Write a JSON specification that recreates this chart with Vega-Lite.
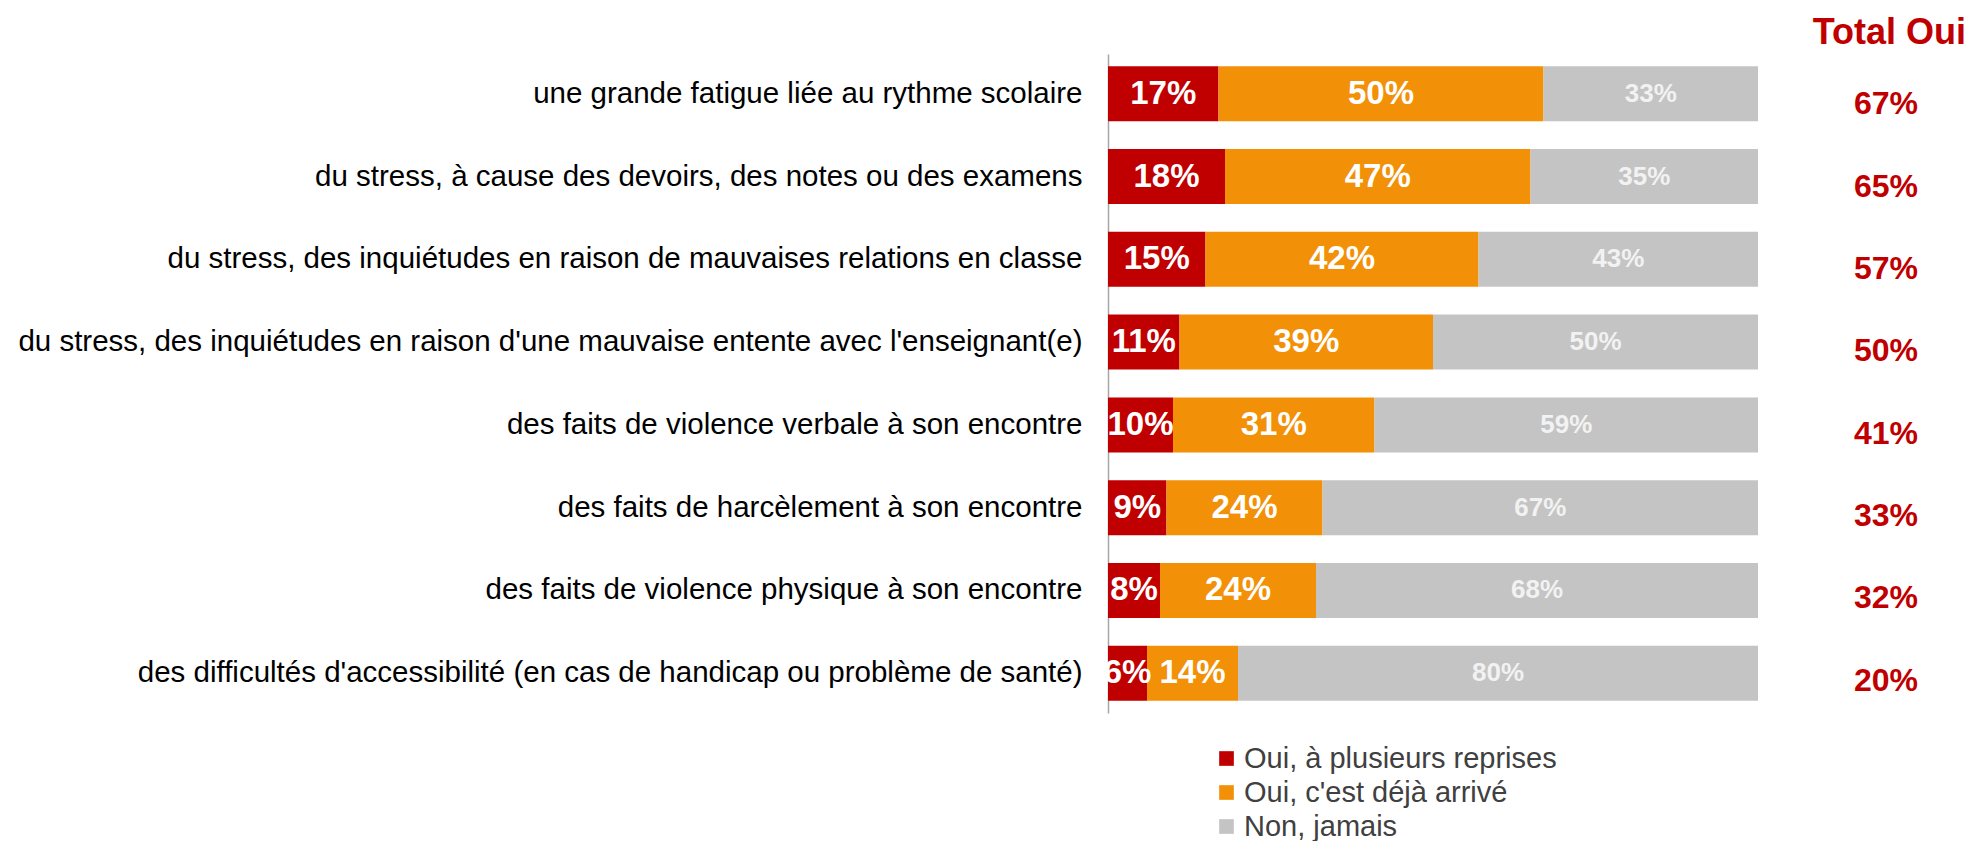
{
  "$schema": "https://vega.github.io/schema/vega-lite/v6.json",
  "background": "white",
  "padding": {"left": 17, "top": 15, "right": 0, "bottom": 0},
  "config": {"font": "Liberation Sans", "view": {"stroke": null}},
  "title": {"text": "Total Oui", "color": "#C00000", "fontSize": 36, "fontWeight": "bold", "anchor": "end", "offset": 2},
  "datasets": {
    "bars": [
      {"item": "une grande fatigue liée au rythme scolaire", "answer": "Oui, à plusieurs reprises", "rank": 1, "share": 0.17},
      {"item": "une grande fatigue liée au rythme scolaire", "answer": "Oui, c'est déjà arrivé", "rank": 2, "share": 0.50},
      {"item": "une grande fatigue liée au rythme scolaire", "answer": "Non, jamais", "rank": 3, "share": 0.33},
      {"item": "du stress, à cause des devoirs, des notes ou des examens", "answer": "Oui, à plusieurs reprises", "rank": 1, "share": 0.18},
      {"item": "du stress, à cause des devoirs, des notes ou des examens", "answer": "Oui, c'est déjà arrivé", "rank": 2, "share": 0.47},
      {"item": "du stress, à cause des devoirs, des notes ou des examens", "answer": "Non, jamais", "rank": 3, "share": 0.35},
      {"item": "du stress, des inquiétudes en raison de mauvaises relations en classe", "answer": "Oui, à plusieurs reprises", "rank": 1, "share": 0.15},
      {"item": "du stress, des inquiétudes en raison de mauvaises relations en classe", "answer": "Oui, c'est déjà arrivé", "rank": 2, "share": 0.42},
      {"item": "du stress, des inquiétudes en raison de mauvaises relations en classe", "answer": "Non, jamais", "rank": 3, "share": 0.43},
      {"item": "du stress, des inquiétudes en raison d'une mauvaise entente avec l'enseignant(e)", "answer": "Oui, à plusieurs reprises", "rank": 1, "share": 0.11},
      {"item": "du stress, des inquiétudes en raison d'une mauvaise entente avec l'enseignant(e)", "answer": "Oui, c'est déjà arrivé", "rank": 2, "share": 0.39},
      {"item": "du stress, des inquiétudes en raison d'une mauvaise entente avec l'enseignant(e)", "answer": "Non, jamais", "rank": 3, "share": 0.50},
      {"item": "des faits de violence verbale à son encontre", "answer": "Oui, à plusieurs reprises", "rank": 1, "share": 0.10},
      {"item": "des faits de violence verbale à son encontre", "answer": "Oui, c'est déjà arrivé", "rank": 2, "share": 0.31},
      {"item": "des faits de violence verbale à son encontre", "answer": "Non, jamais", "rank": 3, "share": 0.59},
      {"item": "des faits de harcèlement à son encontre", "answer": "Oui, à plusieurs reprises", "rank": 1, "share": 0.09},
      {"item": "des faits de harcèlement à son encontre", "answer": "Oui, c'est déjà arrivé", "rank": 2, "share": 0.24},
      {"item": "des faits de harcèlement à son encontre", "answer": "Non, jamais", "rank": 3, "share": 0.67},
      {"item": "des faits de violence physique à son encontre", "answer": "Oui, à plusieurs reprises", "rank": 1, "share": 0.08},
      {"item": "des faits de violence physique à son encontre", "answer": "Oui, c'est déjà arrivé", "rank": 2, "share": 0.24},
      {"item": "des faits de violence physique à son encontre", "answer": "Non, jamais", "rank": 3, "share": 0.68},
      {"item": "des difficultés d'accessibilité (en cas de handicap ou problème de santé)", "answer": "Oui, à plusieurs reprises", "rank": 1, "share": 0.06},
      {"item": "des difficultés d'accessibilité (en cas de handicap ou problème de santé)", "answer": "Oui, c'est déjà arrivé", "rank": 2, "share": 0.14},
      {"item": "des difficultés d'accessibilité (en cas de handicap ou problème de santé)", "answer": "Non, jamais", "rank": 3, "share": 0.80}
    ],
    "totals": [
      {"item": "une grande fatigue liée au rythme scolaire", "total": 0.67},
      {"item": "du stress, à cause des devoirs, des notes ou des examens", "total": 0.65},
      {"item": "du stress, des inquiétudes en raison de mauvaises relations en classe", "total": 0.57},
      {"item": "du stress, des inquiétudes en raison d'une mauvaise entente avec l'enseignant(e)", "total": 0.50},
      {"item": "des faits de violence verbale à son encontre", "total": 0.41},
      {"item": "des faits de harcèlement à son encontre", "total": 0.33},
      {"item": "des faits de violence physique à son encontre", "total": 0.32},
      {"item": "des difficultés d'accessibilité (en cas de handicap ou problème de santé)", "total": 0.20}
    ]
  },
  "spacing": 48,
  "hconcat": [
    {
      "width": 650,
      "height": 659,
      "data": {"name": "bars"},
      "encoding": {
        "y": {
          "field": "item", "type": "nominal", "sort": null, "title": null,
          "scale": {"paddingInner": 0.336, "paddingOuter": 0.148},
          "axis": {"domainColor": "#A6A6A6", "domainWidth": 1.5, "ticks": false, "labelFontSize": 29.5, "labelColor": "#000000", "labelPadding": 26, "labelLimit": 1300}
        }
      },
      "layer": [
        {
          "mark": {"type": "bar"},
          "encoding": {
            "x": {"field": "share", "type": "quantitative", "stack": "zero", "scale": {"domain": [0, 1], "nice": false}, "axis": null},
            "color": {
              "field": "answer", "type": "nominal",
              "scale": {"domain": ["Oui, à plusieurs reprises", "Oui, c'est déjà arrivé", "Non, jamais"], "range": ["#C00000", "#F29108", "#C4C4C4"]},
              "legend": {"orient": "none", "legendX": 104, "legendY": 690, "title": null, "symbolType": "square", "symbolSize": 215, "symbolStrokeWidth": 0, "labelFontSize": 29, "labelColor": "#404040", "labelLimit": 600, "rowPadding": 4, "labelOffset": 3, "padding": 0}
            },
            "order": {"field": "rank", "type": "ordinal"}
          }
        },
        {
          "mark": {"type": "text", "fontWeight": "bold", "baseline": "middle"},
          "encoding": {
            "x": {"field": "share", "type": "quantitative", "stack": "zero", "bandPosition": 0.5},
            "detail": {"field": "answer"},
            "order": {"field": "rank", "type": "ordinal"},
            "text": {"field": "share", "format": ".0%"},
            "color": {"condition": {"test": "datum.answer === 'Non, jamais'", "value": "#F2F2F2"}, "value": "#FFFFFF"},
            "size": {"condition": {"test": "datum.answer === 'Non, jamais'", "value": 26}, "value": 33}
          }
        }
      ]
    },
    {
      "width": 160,
      "height": 659,
      "data": {"name": "totals"},
      "mark": {"type": "text", "fontWeight": "bold", "fontSize": 32, "color": "#C00000", "dy": 9},
      "encoding": {
        "y": {"field": "item", "type": "nominal", "sort": null, "scale": {"paddingInner": 0.336, "paddingOuter": 0.148}, "axis": null},
        "text": {"field": "total", "format": ".0%"}
      }
    }
  ]
}
